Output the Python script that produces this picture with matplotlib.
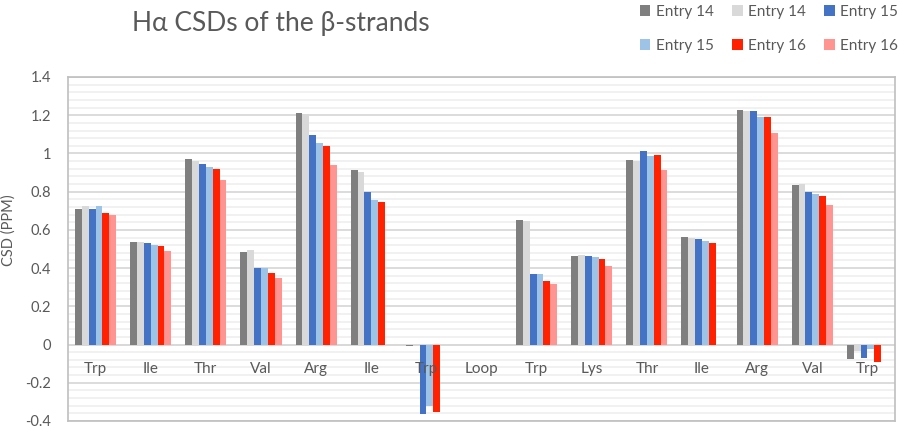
import numpy as np
import matplotlib
matplotlib.use("Agg")
import matplotlib.pyplot as plt
from matplotlib.ticker import MultipleLocator, FuncFormatter

nan = np.nan
residues = ["Trp", "Ile", "Thr", "Val", "Arg", "Ile", "Trp", "Loop",
            "Trp", "Lys", "Thr", "Ile", "Arg", "Val", "Trp"]
series = ["Entry 14", "Entry 14", "Entry 15", "Entry 15", "Entry 16", "Entry 16"]
entry14_a = [0.71, 0.537, 0.97, 0.483, 1.21, 0.915, -0.006, nan, 0.65, 0.465, 0.967, 0.565, 1.228, 0.837, -0.075]
entry14_b = [0.725, 0.537, 0.96, 0.494, 1.205, 0.901, nan, nan, 0.645, 0.47, 0.96, 0.555, 1.224, 0.842, -0.035]
entry15_a = [0.71, 0.532, 0.944, 0.402, 1.099, 0.797, -0.365, nan, 0.37, 0.465, 1.014, 0.551, 1.223, 0.80, -0.07]
entry15_b = [0.725, 0.523, 0.927, 0.40, 1.057, 0.758, -0.32, nan, 0.37, 0.46, 0.986, 0.541, 1.193, 0.79, -0.022]
entry16_a = [0.69, 0.515, 0.917, 0.374, 1.038, 0.748, -0.353, nan, 0.335, 0.45, 0.991, 0.534, 1.193, 0.779, -0.089]
entry16_b = [0.68, 0.489, 0.859, 0.35, 0.939, nan, nan, nan, 0.315, 0.41, 0.915, nan, 1.106, 0.73, nan]
values = [entry14_a, entry14_b, entry15_a, entry15_b, entry16_a, entry16_b]
colors = ["#7F7F7F", "#D9D9D9", "#4472C4", "#9DC3E6", "#FF2100", "#FF9490"]

plt.rcParams["font.family"] = ["Lato", "DejaVu Sans"]
plt.rcParams["axes.unicode_minus"] = False
text_color = "#595959"

fig = plt.figure(figsize=(9, 4.28), dpi=100)
ax = fig.add_axes([68 / 900, 1 - 421 / 428, (895 - 68) / 900, (421 - 77) / 428])

x = np.arange(len(residues))
group = 0.745
w = group / len(series)
handles = []
for k, (vals, col) in enumerate(zip(values, colors)):
    offs = -group / 2 + w * (k + 0.5)
    h = ax.bar(x + offs, vals, width=w, color=col, label=series[k], zorder=3)
    handles.append(h)

ax.set_xlim(-0.5, len(residues) - 0.5)
ax.set_ylim(-0.4, 1.4)
ax.yaxis.set_major_locator(MultipleLocator(0.2))
ax.yaxis.set_minor_locator(MultipleLocator(0.04))
ax.yaxis.set_major_formatter(FuncFormatter(lambda v, p: f"{round(v, 2):g}"))
ax.grid(axis="y", which="major", color="#D9D9D9", lw=1.3, zorder=0)
ax.grid(axis="y", which="minor", color="#F0F0F0", lw=1.3, zorder=0)
ax.tick_params(axis="y", which="both", length=0, pad=12, labelsize=10.5, labelcolor=text_color)
ax.tick_params(axis="x", length=0, labelbottom=False)
for s in ax.spines.values():
    s.set_color("#BFBFBF")
    s.set_linewidth(1.2)
ax.axhline(0, color="#D9D9D9", lw=1.3, zorder=2)

for i, name in enumerate(residues):
    ax.annotate(name, (i, 0), xytext=(0, -17.5), textcoords="offset points",
                ha="center", va="center", fontsize=11, color=text_color, zorder=5)

fig.text(8.5 / 900, 1 - 230 / 428, "CSD (PPM)", rotation=90, ha="center", va="center",
         fontsize=10.5, color=text_color)
fig.text(281 / 900, 1 - 23 / 428, "H\u03b1 CSDs of the \u03b2-strands", ha="center", va="center",
         fontsize=19, color=text_color)

order = [0, 3, 1, 4, 2, 5]
leg = fig.legend([handles[i] for i in order], [series[i] for i in order], ncol=3,
                 loc="upper right", bbox_to_anchor=(898 / 900, 1 - 5 / 428), frameon=False,
                 borderpad=0, handlelength=0.7, handleheight=0.7, handletextpad=0.35,
                 columnspacing=1.2, labelspacing=1.3, fontsize=11, borderaxespad=0)
for t in leg.get_texts():
    t.set_color(text_color)

fig.savefig("out.png", dpi=100)
